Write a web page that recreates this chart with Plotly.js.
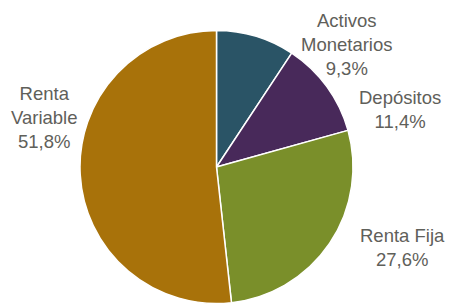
<!DOCTYPE html>
<html>
<head>
<meta charset="utf-8">
<script src="https://cdn.plot.ly/plotly-3.0.1.min.js"></script>
<style>html,body{margin:0;padding:0;background:#fff;}#chart{width:450px;height:304px;}</style>
</head>
<body>
<div id="chart"></div>
<script>
var categories = ["Activos Monetarios", "Depósitos", "Renta Fija", "Renta Variable"];
var labelLines = ["Activos<br>Monetarios", "Depósitos", "Renta Fija", "Renta<br>Variable"];
var values = [9.3, 11.4, 27.6, 51.8];
var colors = ["#2a5466", "#48295a", "#7a8f2a", "#a8720a"];

// label anchor positions in pixels (layout only)
var labelPos = [[347, 44], [400, 109], [402, 247], [44, 118]];

var W = 450, H = 304;
var annotations = categories.map(function (c, i) {
  return {
    x: labelPos[i][0] / W, y: 1 - labelPos[i][1] / H,
    xref: "paper", yref: "paper", xanchor: "center", yanchor: "middle",
    text: labelLines[i] + "<br>" + values[i].toFixed(1).replace(".", ",") + "%",
    showarrow: false, align: "center",
    font: {family: "Liberation Sans, Arial, sans-serif", size: 18.5, color: "#5f605a"}
  };
});

var cx = 216.5, cy = 167, r = 136.5;
var data = [{
  type: "pie",
  labels: categories,
  values: values,
  sort: false,
  direction: "clockwise",
  rotation: 0,
  textinfo: "none",
  hoverinfo: "label+percent",
  marker: {colors: colors, line: {color: "#ffffff", width: 1.5}},
  domain: {x: [(cx - r) / W, (cx + r) / W], y: [1 - (cy + r) / H, 1 - (cy - r) / H]}
}];

var layout = {
  width: W, height: H,
  margin: {l: 0, r: 0, t: 0, b: 0},
  showlegend: false,
  paper_bgcolor: "#ffffff",
  annotations: annotations
};
Plotly.newPlot("chart", data, layout, {displayModeBar: false, staticPlot: true});
</script>
</body>
</html>
